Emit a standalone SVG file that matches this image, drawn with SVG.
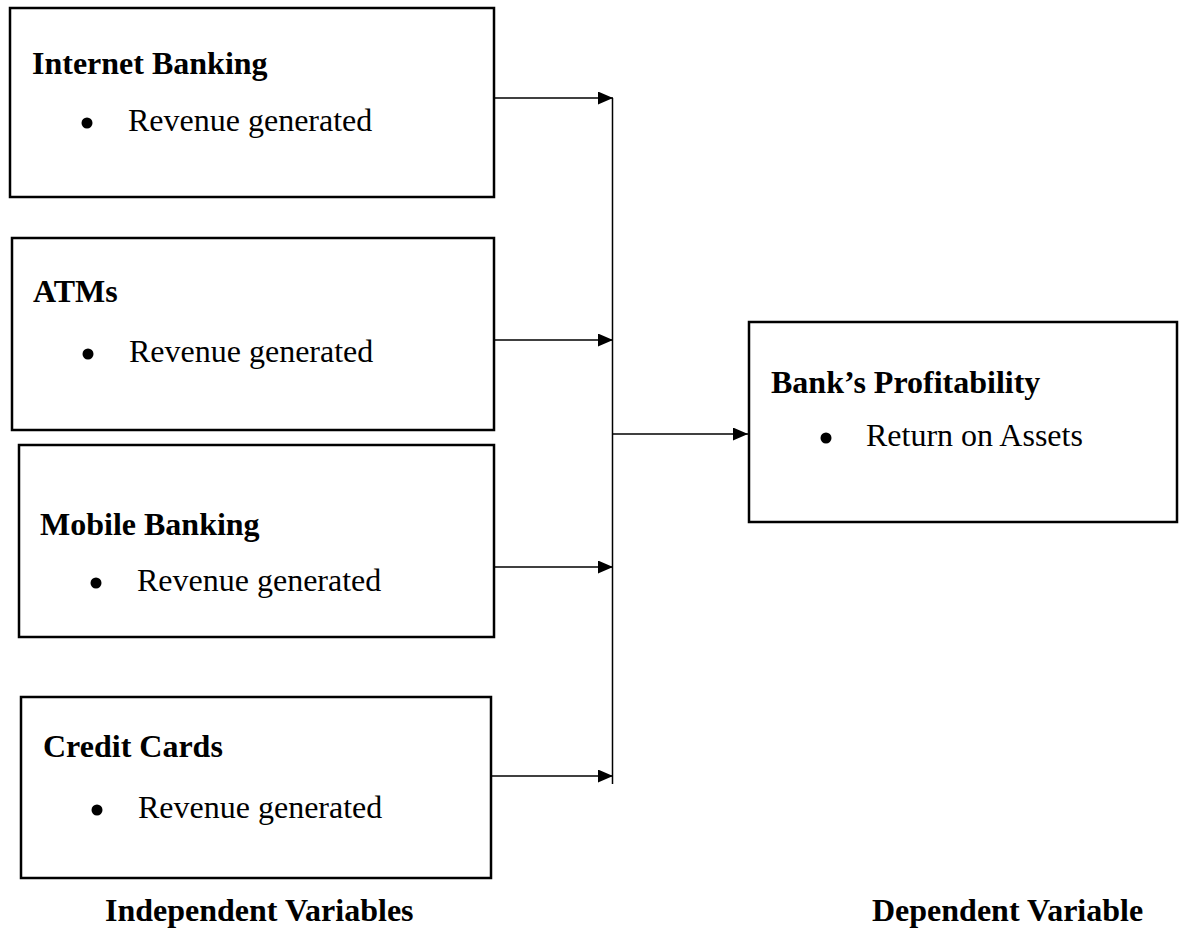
<svg xmlns="http://www.w3.org/2000/svg" width="1188" height="930" viewBox="0 0 1188 930">
<style>
.box{fill:#fff;stroke:#000;stroke-width:2.5}
.t{font-family:"Liberation Serif","Times New Roman",serif;font-weight:bold;font-size:32px;fill:#000}
.b{font-family:"Liberation Serif","Times New Roman",serif;font-size:32px;fill:#000}
.c{stroke:#000;stroke-width:1.5;fill:none}
</style>
<defs>
<marker id="ah" markerWidth="15" markerHeight="13" refX="15" refY="6.5" orient="auto" markerUnits="userSpaceOnUse" viewBox="0 0 15 13">
<path d="M0,0 L15,6.5 L0,13 z" fill="#000"/>
</marker>
</defs>
<rect width="1188" height="930" fill="#fff"/>
<g id="internet-banking">
<rect class="box" x="10" y="8" width="484" height="189"/>
<text class="t" x="32" y="74">Internet Banking</text>
<circle cx="87" cy="123" r="5.5"/>
<text class="b" x="128" y="131">Revenue generated</text>
</g>
<g id="atms">
<rect class="box" x="12" y="238" width="482" height="192"/>
<text class="t" x="33" y="302">ATMs</text>
<circle cx="88" cy="354" r="5.5"/>
<text class="b" x="129" y="362">Revenue generated</text>
</g>
<g id="mobile-banking">
<rect class="box" x="19" y="445" width="475" height="192"/>
<text class="t" x="40" y="535">Mobile Banking</text>
<circle cx="96" cy="583" r="5.5"/>
<text class="b" x="137" y="591">Revenue generated</text>
</g>
<g id="credit-cards">
<rect class="box" x="21" y="697" width="470" height="181"/>
<text class="t" x="43" y="757">Credit Cards</text>
<circle cx="97" cy="810" r="5.5"/>
<text class="b" x="138" y="818">Revenue generated</text>
</g>
<g id="banks-profitability">
<rect class="box" x="749" y="322" width="428" height="200"/>
<text class="t" x="771" y="393">Bank’s Profitability</text>
<circle cx="826" cy="438" r="5.5"/>
<text class="b" x="866" y="446">Return on Assets</text>
</g>
<g id="connectors">
<line class="c" x1="612.5" y1="98" x2="612.5" y2="784"/>
<line class="c" x1="494" y1="98" x2="613" y2="98" marker-end="url(#ah)"/>
<line class="c" x1="494" y1="340" x2="613" y2="340" marker-end="url(#ah)"/>
<line class="c" x1="494" y1="567" x2="613" y2="567" marker-end="url(#ah)"/>
<line class="c" x1="491" y1="776" x2="613" y2="776" marker-end="url(#ah)"/>
<line class="c" x1="612.5" y1="434" x2="748" y2="434" marker-end="url(#ah)"/>
</g>
<g id="labels">
<text class="t" x="105" y="921">Independent Variables</text>
<text class="t" x="872" y="921">Dependent Variable</text>
</g>
</svg>
